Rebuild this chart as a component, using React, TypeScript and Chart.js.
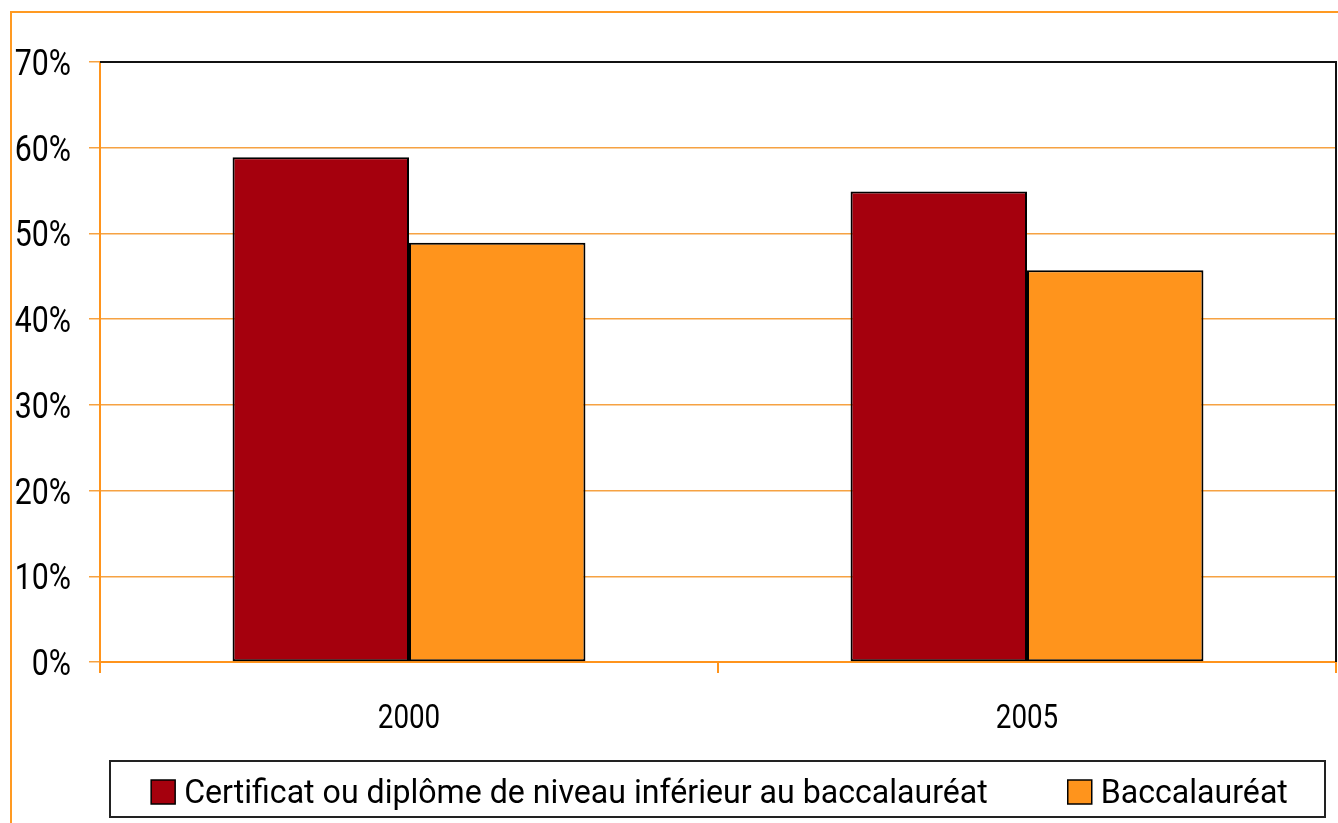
import React, { useEffect, useRef } from "react";
import { Chart, registerables } from "chart.js";

Chart.register(...registerables);

const categories = ["2000", "2005"];
const seriesLabels = [
  "Certificat ou diplôme de niveau inférieur au baccalauréat",
  "Baccalauréat",
];
const certificatValues = [58.9, 54.9];
const baccalaureatValues = [48.9, 45.7];
const yTickValues = [0, 10, 20, 30, 40, 50, 60, 70];

const RED = "#A5000D";
const ORANGE = "#FF941C";
const GRID = "#F6A242";
const FRAME = "#FF9A22";
const FONT = 'Roboto, "Liberation Sans", sans-serif';

function condensedText(ctx: any, text: string, x: number, y: number, size: number, align: string, sx: number) {
  ctx.save();
  ctx.font = `${size}px ${FONT}`;
  ctx.textAlign = align;
  ctx.textBaseline = "alphabetic";
  ctx.fillStyle = "#000";
  ctx.translate(x, y);
  ctx.scale(sx, 1);
  ctx.fillText(text, 0, 0);
  ctx.restore();
}

const decorPlugin = {
  id: "decor",
  beforeDraw(chart: any) {
    const ctx = chart.ctx;
    ctx.save();
    ctx.fillStyle = "#ffffff";
    ctx.fillRect(0, 0, chart.width, chart.height);
    ctx.restore();
  },
  beforeDatasetsDraw(chart: any) {
    const { left, top, right, bottom } = chart.chartArea;
    const ctx = chart.ctx;
    ctx.save();
    ctx.strokeStyle = "#111111";
    ctx.lineWidth = 2;
    ctx.beginPath();
    ctx.moveTo(left, top);
    ctx.lineTo(right, top);
    ctx.lineTo(right, bottom);
    ctx.stroke();
    ctx.restore();
  },
  afterDraw(chart: any) {
    const ctx = chart.ctx;
    const { left, bottom } = chart.chartArea;

    // y tick labels
    const ys = chart.scales.y;
    for (const t of ys.ticks) {
      const y = ys.getPixelForValue(t.value);
      condensedText(ctx, `${t.value}%`, left - 29, y + 13, 36.5, "right", 0.83);
    }
    // x tick labels
    const xs = chart.scales.x;
    chart.data.labels.forEach((lab: string, i: number) => {
      const x = xs.getPixelForValue(i);
      condensedText(ctx, lab, x, bottom + 66, 32.3, "center", 0.86);
    });

    ctx.save();
    // outer frame (left and top edges visible)
    ctx.strokeStyle = FRAME;
    ctx.lineWidth = 2;
    ctx.beginPath();
    ctx.moveTo(11, chart.height);
    ctx.lineTo(11, 12);
    ctx.lineTo(chart.width, 12);
    ctx.stroke();

    // legend box
    const bx = 110, by = 761, bw = 1215, bh = 56;
    ctx.strokeStyle = "#222222";
    ctx.lineWidth = 2;
    ctx.strokeRect(bx, by, bw, bh);
    ctx.restore();

    const size = 33.8;
    const LSX = 0.95;
    ctx.save();
    ctx.font = `${size}px ${FONT}`;
    const sq = 24, gapText = 9, gapItems = 80;
    const items = chart.data.datasets.map((ds: any) => ({
      label: ds.label as string,
      color: ds.backgroundColor as string,
      w: sq + gapText + ctx.measureText(ds.label).width * LSX,
    }));
    ctx.restore();
    const total = items.reduce((s: number, it: any) => s + it.w, 0) + gapItems * (items.length - 1);
    let x = bx + (bw - total) / 2 + 2;
    const sqTop = 780;
    for (const it of items) {
      ctx.save();
      ctx.fillStyle = it.color;
      ctx.fillRect(x, sqTop, sq, sq);
      ctx.strokeStyle = "#000";
      ctx.lineWidth = 1.5;
      ctx.strokeRect(x, sqTop, sq, sq);
      ctx.restore();
      condensedText(ctx, it.label, x + sq + gapText, 803, size, "left", LSX);
      x += it.w + gapItems;
    }
  },
};

export default function App() {
  const canvasRef = useRef<HTMLCanvasElement | null>(null);

  useEffect(() => {
    if (!canvasRef.current) return;
    const chart = new Chart(canvasRef.current, {
      type: "bar",
      data: {
        labels: categories,
        datasets: [
          {
            label: seriesLabels[0],
            data: certificatValues,
            backgroundColor: RED,
            borderColor: "#000000",
            borderWidth: 2,
            borderSkipped: false,
            barPercentage: 1,
            categoryPercentage: 0.571,
          },
          {
            label: seriesLabels[1],
            data: baccalaureatValues,
            backgroundColor: ORANGE,
            borderColor: "#000000",
            borderWidth: 2,
            borderSkipped: false,
            barPercentage: 1,
            categoryPercentage: 0.571,
          },
        ],
      },
      options: {
        responsive: false,
        animation: false,
        layout: { padding: { left: 0, right: 2, top: 62, bottom: 81 } },
        plugins: {
          legend: { display: false },
          tooltip: { enabled: false },
          title: { display: false },
        },
        scales: {
          x: {
            grid: {
              offset: true,
              drawOnChartArea: false,
              drawTicks: true,
              tickLength: 11,
              color: ORANGE,
              lineWidth: 2,
            },
            border: { display: true, color: ORANGE, width: 2 },
            ticks: { display: false },
            afterFit(scale: any) {
              scale.height = 80;
            },
          },
          y: {
            min: 0,
            max: 70,
            afterBuildTicks(scale: any) {
              scale.ticks = yTickValues.map((v) => ({ value: v }));
            },
            ticks: { display: false },
            grid: { color: GRID, lineWidth: 1.5, tickLength: 11 },
            border: { display: true, color: ORANGE, width: 2 },
            afterFit(scale: any) {
              scale.width = 100;
            },
          },
        },
      },
      plugins: [decorPlugin],
    });
    return () => chart.destroy();
  }, []);

  return (
    <canvas
      ref={canvasRef}
      width={1338}
      height={823}
      style={{ position: "absolute", left: 0, top: 0, display: "block" }}
    />
  );
}
